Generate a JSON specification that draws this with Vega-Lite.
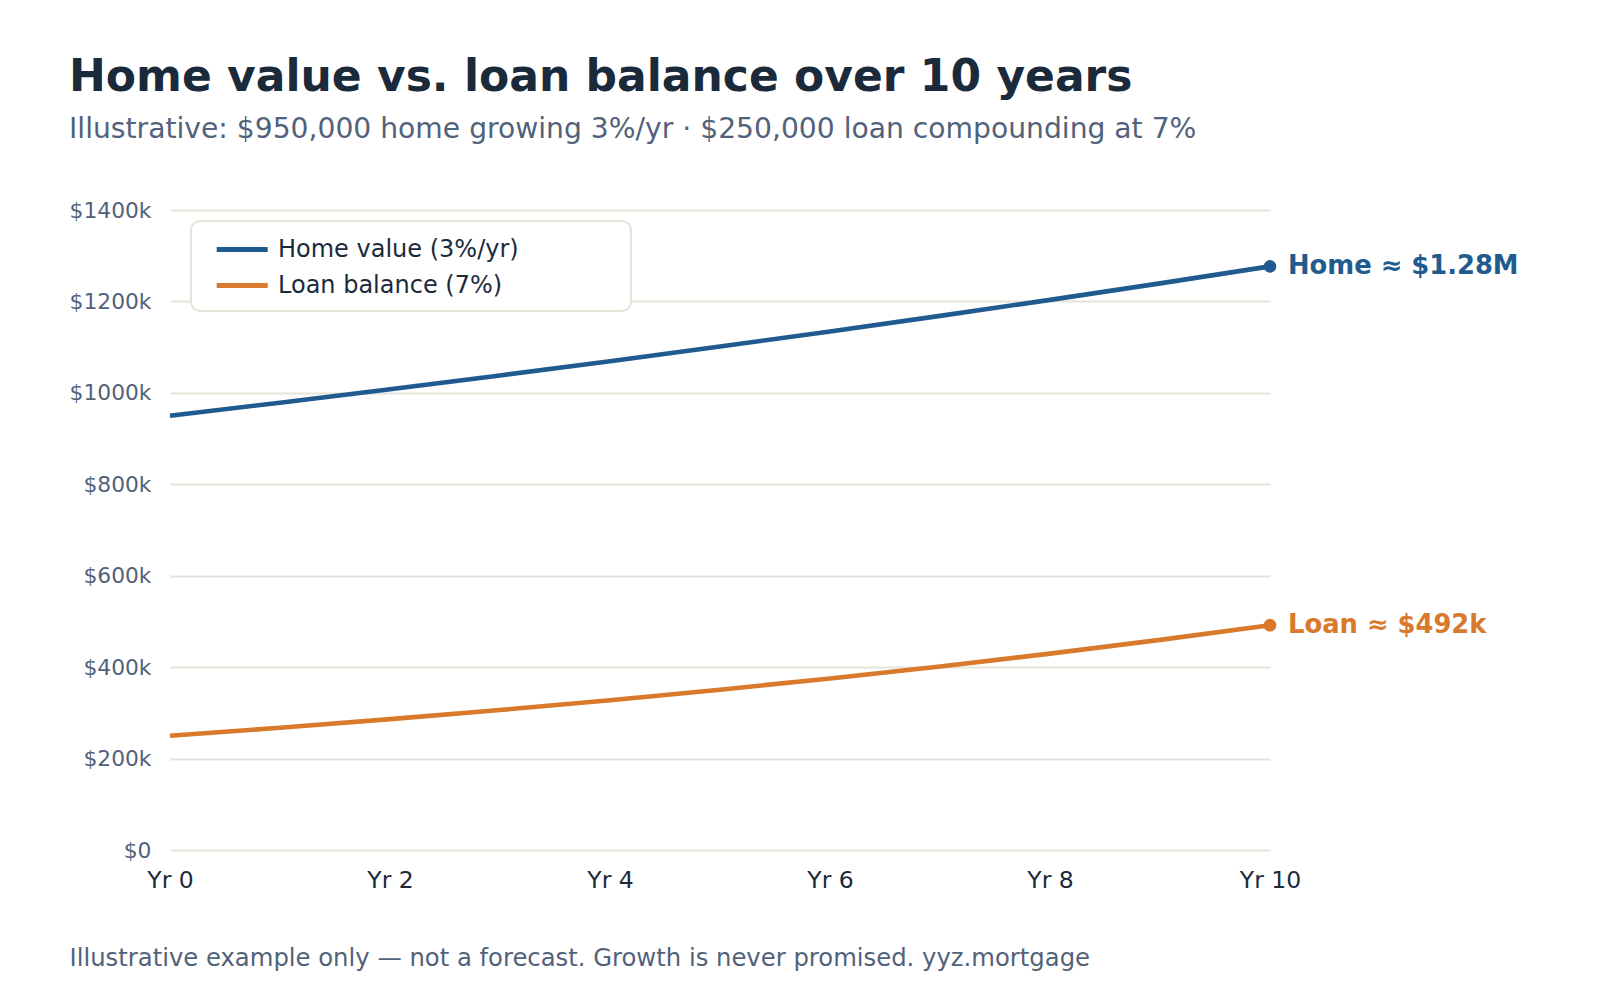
{
  "$schema": "https://vega.github.io/schema/vega-lite/v6.json",
  "autosize": {"type": "none"},
  "padding": {"left": 170, "top": 210, "right": 330, "bottom": 150},
  "width": 1100,
  "height": 640,
  "background": "white",
  "title": {
    "text": "Home value vs. loan balance over 10 years",
    "subtitle": "Illustrative: $950,000 home growing 3%/yr · $250,000 loan compounding at 7%",
    "anchor": "start",
    "frame": "bounds",
    "font": "DejaVu Sans",
    "fontSize": 44,
    "fontWeight": "bold",
    "color": "#1b2a3b",
    "subtitleFont": "DejaVu Sans",
    "subtitleFontSize": 28.2,
    "subtitleColor": "#52627a",
    "subtitlePadding": 16,
    "offset": 57
  },
  "datasets": {
    "growth": [
      {"year": 0, "series": "Home value (3%/yr)", "value": 950000},
      {"year": 1, "series": "Home value (3%/yr)", "value": 978500},
      {"year": 2, "series": "Home value (3%/yr)", "value": 1007855},
      {"year": 3, "series": "Home value (3%/yr)", "value": 1038091},
      {"year": 4, "series": "Home value (3%/yr)", "value": 1069233},
      {"year": 5, "series": "Home value (3%/yr)", "value": 1101310},
      {"year": 6, "series": "Home value (3%/yr)", "value": 1134350},
      {"year": 7, "series": "Home value (3%/yr)", "value": 1168380},
      {"year": 8, "series": "Home value (3%/yr)", "value": 1203432},
      {"year": 9, "series": "Home value (3%/yr)", "value": 1239535},
      {"year": 10, "series": "Home value (3%/yr)", "value": 1276721},
      {"year": 0, "series": "Loan balance (7%)", "value": 250000},
      {"year": 1, "series": "Loan balance (7%)", "value": 267500},
      {"year": 2, "series": "Loan balance (7%)", "value": 286225},
      {"year": 3, "series": "Loan balance (7%)", "value": 306261},
      {"year": 4, "series": "Loan balance (7%)", "value": 327699},
      {"year": 5, "series": "Loan balance (7%)", "value": 350638},
      {"year": 6, "series": "Loan balance (7%)", "value": 375183},
      {"year": 7, "series": "Loan balance (7%)", "value": 401445},
      {"year": 8, "series": "Loan balance (7%)", "value": 429546},
      {"year": 9, "series": "Loan balance (7%)", "value": 459614},
      {"year": 10, "series": "Loan balance (7%)", "value": 491788}
    ],
    "ends": [
      {"year": 10, "series": "Home value (3%/yr)", "value": 1276721, "label": "Home ≈ $1.28M"},
      {"year": 10, "series": "Loan balance (7%)", "value": 491788, "label": "Loan ≈ $492k"}
    ]
  },
  "encoding": {
    "x": {
      "field": "year",
      "type": "quantitative",
      "scale": {"domain": [0, 10], "nice": false, "zero": false},
      "axis": {
        "values": [0, 2, 4, 6, 8, 10],
        "labelExpr": "'Yr ' + datum.value",
        "grid": false,
        "domain": false,
        "ticks": false,
        "labelFont": "DejaVu Sans",
        "labelFontSize": 23.5,
        "labelColor": "#1b2a3b",
        "labelPadding": 18,
        "labelFlush": false,
        "title": "Illustrative example only — not a forecast. Growth is never promised. yyz.mortgage",
        "titleFont": "DejaVu Sans",
        "titleFontSize": 24.3,
        "titleFontWeight": "normal",
        "titleColor": "#52627a",
        "titleAnchor": "start",
        "titleAlign": "left",
        "titleBaseline": "alphabetic",
        "titleX": -101,
        "titleY": 115
      }
    },
    "y": {
      "field": "value",
      "type": "quantitative",
      "scale": {"domain": [0, 1400000], "nice": false},
      "axis": {
        "values": [0, 200000, 400000, 600000, 800000, 1000000, 1200000, 1400000],
        "labelExpr": "datum.value == 0 ? '$0' : '$' + (datum.value / 1000) + 'k'",
        "domain": false,
        "ticks": false,
        "grid": true,
        "gridColor": "#e6e3da",
        "gridWidth": 2,
        "labelFont": "DejaVu Sans",
        "labelFontSize": 21.8,
        "labelColor": "#52627a",
        "labelPadding": 19,
        "title": null
      }
    },
    "color": {
      "field": "series",
      "type": "nominal",
      "scale": {
        "domain": ["Home value (3%/yr)", "Loan balance (7%)"],
        "range": ["#1f5b8f", "#d9792b"]
      }
    }
  },
  "layer": [
    {
      "data": {"name": "growth"},
      "mark": {"type": "line", "strokeWidth": 4.6},
      "encoding": {
        "color": {
          "field": "series",
          "type": "nominal",
          "legend": {
            "orient": "none",
            "legendX": 21,
            "legendY": 11,
            "title": null,
            "symbolType": "M-0.22,0H3.78",
            "symbolSize": 650,
            "symbolStrokeWidth": 5,
            "labelFont": "DejaVu Sans",
            "labelFontSize": 24,
            "labelColor": "#1b2a3b",
            "labelLimit": 800,
            "labelOffset": 43,
            "labelExpr": "datum.label + '             \u200b'",
            "rowPadding": 8,
            "padding": 13,
            "fillColor": "white",
            "strokeColor": "#e6e2d8",
            "cornerRadius": 9
          }
        }
      }
    },
    {
      "data": {"name": "ends"},
      "mark": {"type": "circle", "size": 160, "opacity": 1},
      "encoding": {
        "color": {"field": "series", "type": "nominal", "legend": null}
      }
    },
    {
      "data": {"name": "ends"},
      "mark": {
        "type": "text",
        "align": "left",
        "baseline": "middle",
        "dx": 18,
        "font": "DejaVu Sans",
        "fontSize": 25.8,
        "fontWeight": "bold"
      },
      "encoding": {
        "text": {"field": "label"},
        "color": {"field": "series", "type": "nominal", "legend": null}
      }
    }
  ],
  "config": {"view": {"stroke": null}, "legend": {"strokeWidth": 2}}
}
